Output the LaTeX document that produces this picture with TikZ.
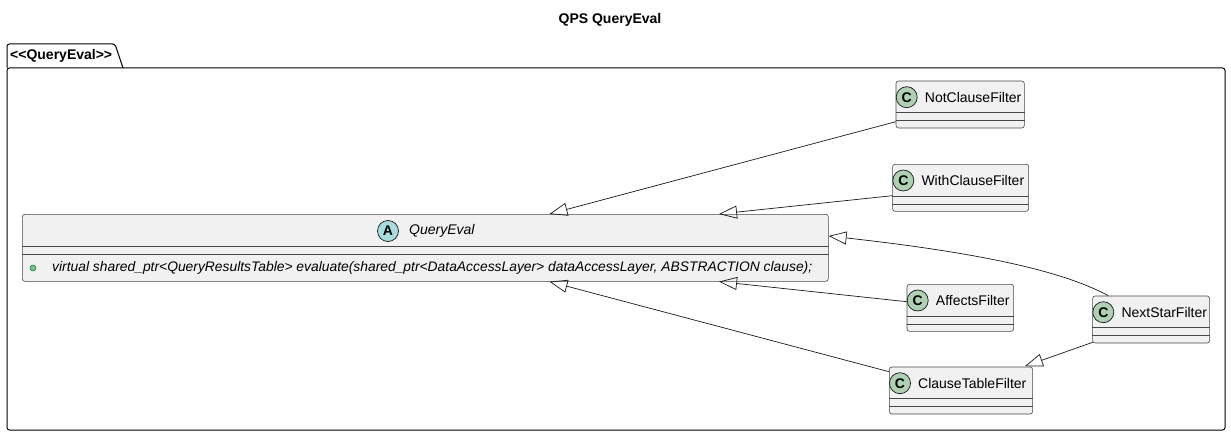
\documentclass[tikz,border=0pt]{standalone}
\usepackage{fontspec}
\setmainfont{Liberation Sans}
\usetikzlibrary{arrows.meta,calc}
\definecolor{boxfill}{HTML}{F1F1F1}
\definecolor{boxline}{HTML}{181818}
\definecolor{cgreen}{HTML}{ADD1B2}
\definecolor{acyan}{HTML}{A9DCDF}
\definecolor{dotfill}{HTML}{84BE84}
\definecolor{dotline}{HTML}{038048}
\tikzset{
  clsbox/.style={draw=boxline!80, fill=boxfill, line width=0.6pt, rounded corners=2.5pt, inner sep=0pt},
  sepline/.style={draw=boxline!80, line width=0.6pt},
  badge/.style={circle, draw=boxline, line width=0.7pt, minimum size=21pt, inner sep=0pt, font=\fontsize{14}{14}\selectfont\bfseries},
  clslabel/.style={inner sep=0pt, font=\fontsize{14}{16}\selectfont},
  inh/.style={draw=boxline, line width=0.7pt, -{Triangle[open,length=18pt,width=13pt]}},
}
\newcommand{\umlcls}[5]{%
  \node[clsbox, minimum width=#4pt, minimum height=47pt, anchor=north west] (#1) at (#2,#3) {};
  \draw[sepline] ($(#1.north west)+(0,32)$) -- ($(#1.north east)+(0,32)$);
  \draw[sepline] ($(#1.north west)+(0,40)$) -- ($(#1.north east)+(0,40)$);
  \node[badge, fill=cgreen] (#1-c) at ($(#1.north west)+(11,16.5)$) {C};
  \node[clslabel, anchor=west] (#1-t) at ($(#1.north west)+(29,16.5)$) {#5};
}
\begin{document}
\begin{tikzpicture}[x=1pt,y=-1pt]
\useasboundingbox (0,0) rectangle (1231,436);
% title
\node[inner sep=0pt, font=\fontsize{14}{16}\selectfont\bfseries] (title) at (610,20) {QPS QueryEval};
% package
\draw[line width=1pt, rounded corners=2.5pt] (7,68) -- (7,44) -- (115,44) -- (123,68);
\draw[line width=1pt, rounded corners=2.5pt] (7,68) rectangle (1225,430);
\node[inner sep=0pt, anchor=west, font=\fontsize{14}{16}\selectfont\bfseries] (pkg) at (10,56) {<{}<QueryEval>{}>};
% QueryEval abstract class
\node[clsbox, minimum width=806pt, minimum height=67pt, anchor=north west] (qe) at (22,214) {};
\draw[sepline] ($(qe.north west)+(0,32.7)$) -- ($(qe.north east)+(0,32.7)$);
\draw[sepline] ($(qe.north west)+(0,40)$) -- ($(qe.north east)+(0,40)$);
\node[badge, fill=acyan] (qe-a) at ($(qe.north west)+(366,17)$) {A};
\node[clslabel, anchor=west, font=\fontsize{14}{16}\selectfont\itshape] (qe-t) at ($(qe.north west)+(387,17)$) {QueryEval};
\node[circle, fill=dotfill, draw=dotline, line width=0.5pt, minimum size=6pt, inner sep=0pt] (qe-dot) at ($(qe.north west)+(11,54)$) {};
\node[clslabel, anchor=west, font=\fontsize{13.85}{16}\selectfont\itshape] (qe-m) at ($(qe.north west)+(30,54)$) {virtual shared\_ptr<QueryResultsTable> evaluate(shared\_ptr<DataAccessLayer> dataAccessLayer, ABSTRACTION clause);};
% subclasses
\umlcls{ncf}{895.7}{80.7}{128.3}{NotClauseFilter}
\umlcls{wcf}{892.3}{164}{136}{WithClauseFilter}
\umlcls{af}{906.7}{284}{106.6}{AffectsFilter}
\umlcls{nsf}{1092.3}{295.7}{117}{NextStarFilter}
\umlcls{ctf}{889}{366.7}{143.3}{ClauseTableFilter}
% inheritance
\draw[inh] ($(ncf.north west)+(0,41)$) -- ($(qe.north west)+(527.5,0)$);
\draw[inh] ($(wcf.north west)+(0,31.7)$) -- ($(qe.north west)+(697,0)$);
\draw[inh] ($(nsf.north west)+(16,0)$) .. controls (1070,275) and (1000,255) .. ($(qe.north east)+(0,22)$);
\draw[inh] ($(af.north west)+(0,17.7)$) -- ($(qe.south west)+(697,0)$);
\draw[inh] ($(ctf.north west)+(0,5)$) -- ($(qe.south west)+(527.5,0)$);
\draw[inh] ($(nsf.south west)+(0.4,-1)$) -- ($(ctf.north east)+(-8,-0.5)$);
\end{tikzpicture}
\end{document}
